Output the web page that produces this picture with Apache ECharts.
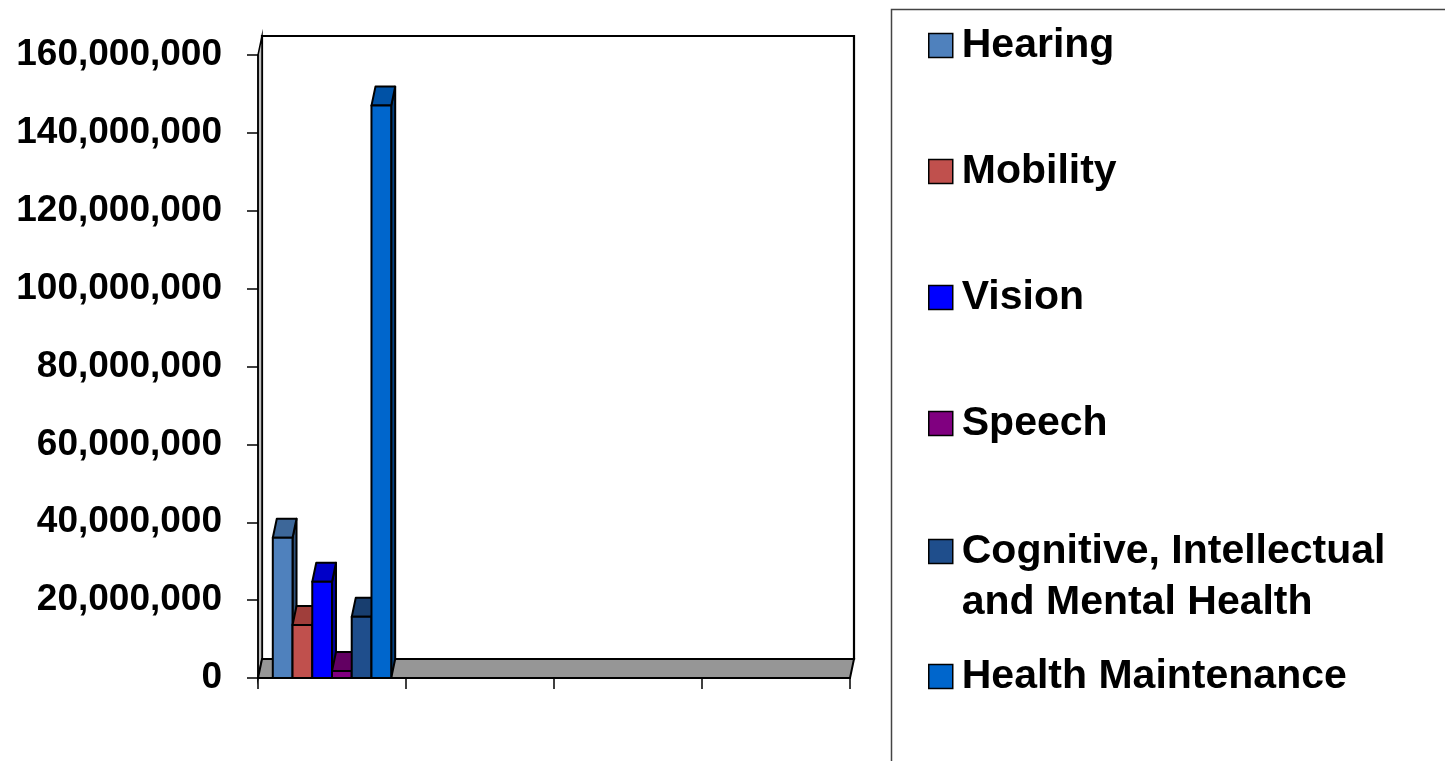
<!DOCTYPE html>
<html>
<head>
<meta charset="utf-8">
<title>Chart</title>
<script src="https://cdn.jsdelivr.net/npm/echarts@6/dist/echarts.min.js"></script>
<style>
  html, body { margin: 0; padding: 0; background: #fff; }
  #chart { width: 1445px; height: 761px; }
</style>
</head>
<body>
<div id="chart"></div>
<script>
// 数据
const categories = ['', '', '', '']
const seriesNames = [
  'Hearing',
  'Mobility',
  'Vision',
  'Speech',
  'Cognitive, Intellectual and Mental Health',
  'Health Maintenance'
]
const seriesValues = [36000000, 13600000, 24700000, 1800000, 15700000, 147000000]
const yMin = 0
const yMax = 160000000
const yInterval = 20000000

// 样式
const frontColors = ['#4F81BD', '#C0504D', '#0000FF', '#800080', '#1F4E8C', '#0066CC']
const topColors = ['#3D6799', '#A03E3B', '#0000C8', '#620062', '#183E6F', '#0052A6']
const sideColors = ['#2F517A', '#84322F', '#00009A', '#4A004A', '#122F55', '#003F80']
const depth = [4, -19]   // 3D偏移
const fontFamily = '"Liberation Sans", Arial, sans-serif'
const legendCenters = [45, 171, 297, 423, 550, 676]

const chart = echarts.init(document.getElementById('chart'))

const fmt = v => v.toLocaleString('en-US')

// 背景墙和底板
const wallSeries = {
  type: 'custom',
  z: 1,
  silent: true,
  clip: false,
  data: [[0, 0]],
  renderItem: (params) => {
    const r = params.coordSys
    const [dx, dy] = depth
    const x = r.x, y = r.y, w = r.width, h = r.height
    const line = { stroke: '#000', lineWidth: 1.5 }
    return {
      type: 'group',
      children: [
        { type: 'polygon', shape: { points: [[x + dx, y + dy], [x + w + dx, y + dy], [x + w + dx, y + h + dy], [x + dx, y + h + dy]] },
          style: Object.assign({ fill: '#fff' }, line, { lineWidth: 2.2 }) },
        { type: 'polygon', shape: { points: [[x, y], [x + dx, y + dy], [x + dx, y + h + dy], [x, y + h]] },
          style: Object.assign({ fill: '#c0c0c0' }, line) },
        { type: 'polygon', shape: { points: [[x, y + h], [x + dx, y + h + dy], [x + w + dx, y + h + dy], [x + w, y + h]] },
          style: Object.assign({ fill: '#969696' }, line, { lineWidth: 2 }) }
      ]
    }
  }
}

// 3D柱子
const barSeries = seriesNames.map((name, i) => ({
  name: name,
  type: 'custom',
  z: 2 + i,
  clip: false,
  itemStyle: { color: frontColors[i] },
  data: [[0, seriesValues[i]]],
  renderItem: (params, api) => {
    const cat = api.value(0)
    const top = api.coord([cat, api.value(1)])
    const base = api.coord([cat, 0])
    const band = api.size([1, 0])[0]
    const groupW = band * 0.8
    const bw = groupW / seriesNames.length
    const x0 = top[0] - groupW / 2 + i * bw
    const x1 = x0 + bw
    const yt = top[1], yb = base[1]
    const [dx, dy] = depth
    const line = { stroke: '#000', lineWidth: 2, lineJoin: 'round' }
    return {
      type: 'group',
      children: [
        { type: 'polygon', shape: { points: [[x1, yt], [x1 + dx, yt + dy], [x1 + dx, yb + dy], [x1, yb]] },
          style: Object.assign({ fill: sideColors[i] }, line) },
        { type: 'polygon', shape: { points: [[x0, yt], [x1, yt], [x1 + dx, yt + dy], [x0 + dx, yt + dy]] },
          style: Object.assign({ fill: topColors[i] }, line) },
        { type: 'rect', shape: { x: x0, y: yt, width: bw, height: yb - yt },
          style: Object.assign({ fill: frontColors[i] }, line) }
      ]
    }
  }
}))

// 图例（每项单独定位）
const legends = seriesNames.map((name, i) => {
  const multi = i === 4
  return {
    data: [name],
    orient: 'vertical',
    left: 928,
    top: legendCenters[i] - (multi ? 78 : 28),
    padding: 0,
    icon: 'rect',
    itemWidth: 24,
    itemHeight: 24,
    selectedMode: false,
    itemStyle: { borderColor: '#000', borderWidth: 1.5 },
    formatter: multi ? '\nCognitive, Intellectual\nand Mental Health' : '{name}',
    textStyle: {
      color: '#000',
      fontFamily: fontFamily,
      fontWeight: 'bold',
      fontSize: 41,
      lineHeight: 51,
      padding: [6, 0, 0, 4]
    }
  }
})

const option = {
  animation: false,
  backgroundColor: '#fff',
  grid: { left: 258, top: 55, width: 592, height: 623 },
  xAxis: {
    type: 'category',
    data: categories,
    boundaryGap: true,
    axisLine: { show: true, lineStyle: { color: '#000', width: 1.5 } },
    axisTick: { show: true, length: 11, lineStyle: { color: '#000', width: 1.5 } },
    axisLabel: { show: false },
    splitLine: { show: false },
    z: 20
  },
  yAxis: {
    type: 'value',
    min: yMin,
    max: yMax,
    interval: yInterval,
    axisLine: { show: true, lineStyle: { color: '#000', width: 1.5 } },
    axisTick: { show: true, length: 11, lineStyle: { color: '#000', width: 1.5 } },
    splitLine: { show: false },
    axisLabel: {
      margin: 36,
      color: '#000',
      fontFamily: fontFamily,
      fontWeight: 'bold',
      fontSize: 37,
      formatter: fmt
    },
    z: 20
  },
  legend: legends,
  graphic: [
    {
      type: 'rect',
      left: 889,
      top: 7,
      shape: { width: 620, height: 820 },
      style: { fill: 'none', stroke: '#444', lineWidth: 1.5 },
      silent: true
    }
  ],
  series: [wallSeries].concat(barSeries)
}

chart.setOption(option)
</script>
</body>
</html>
